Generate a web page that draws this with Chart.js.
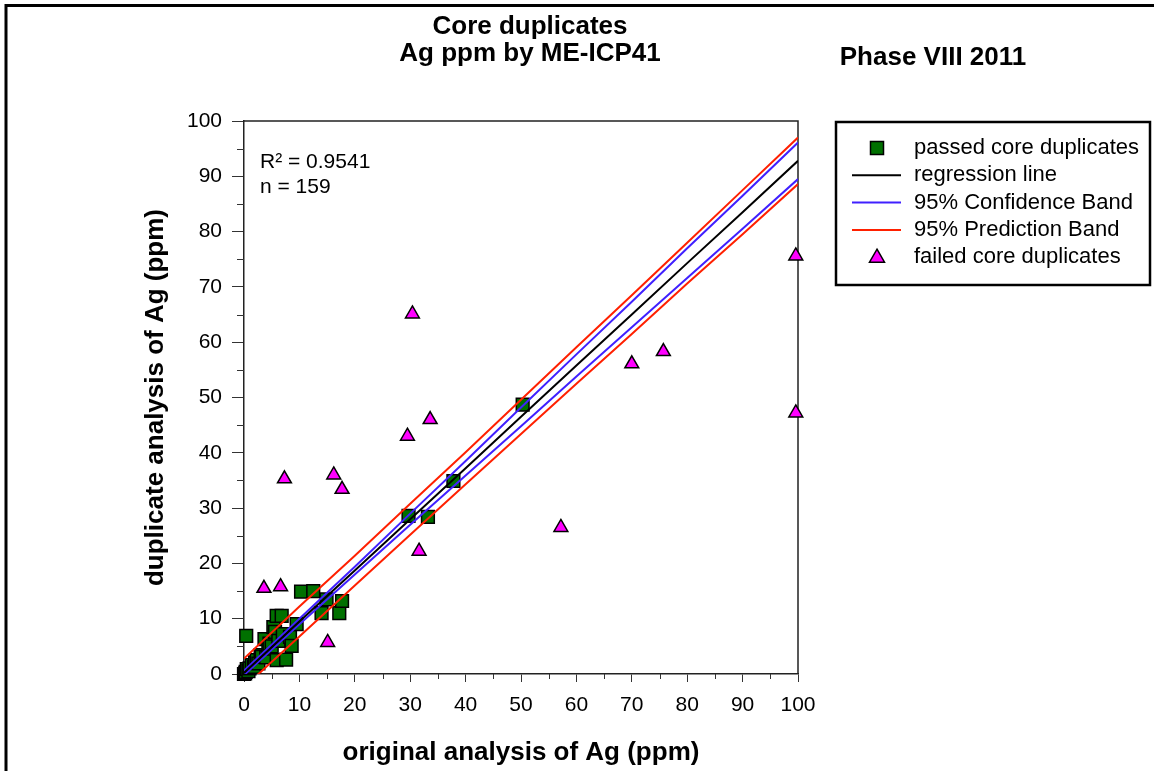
<!DOCTYPE html>
<html>
<head>
<meta charset="utf-8">
<title>Core duplicates - Ag ppm by ME-ICP41</title>
<script src="https://cdn.jsdelivr.net/npm/chart.js@4.4.0/dist/chart.umd.min.js"></script>
<style>
    html, body { margin: 0; padding: 0; background: #fff; }
    #wrap { position: relative; width: 1154px; height: 771px; }
</style>
</head>
<body>
<div id="wrap"><canvas id="agChart" width="1154" height="771"></canvas></div>
<script>
// passed core duplicates (original, duplicate) - many overlap near the origin
const passedX = [0.0, 0.2, 0.3, 0.5, 0.4, 0.8, 1.0, 1.4, 1.8, 2.0, 2.3, 2.6, 3.0, 3.2, 3.7, 4.0, 4.4, 4.6, 5.0, 5.3,
                 5.6, 5.9, 5.9, 6.2, 6.8, 7.0, 7.6, 8.3, 8.6, 9.5, 10.3, 12.5, 14.0, 14.9, 17.2, 17.7, 29.7, 33.2, 37.8, 50.3];
const passedY = [0.0, 0.1, 0.4, 0.9, 6.9, 0.5, 1.0, 1.6, 1.3, 2.1, 2.5, 1.9, 3.4, 3.1, 6.3, 3.0, 4.6, 5.5, 5.0, 8.5,
                 7.6, 2.5, 10.5, 6.0, 10.5, 7.2, 2.6, 6.7, 5.1, 9.0, 14.9, 15.0, 11.0, 13.5, 11.0, 13.2, 28.6, 28.4, 34.9, 48.7];

// failed core duplicates
const failedX = [3.6, 6.6, 7.3, 15.1, 16.2, 17.7, 29.5, 30.4, 31.6, 33.6, 57.2, 70.0, 75.7, 99.6, 99.6];
const failedY = [15.5, 15.8, 35.3, 5.7, 36.0, 33.4, 43.0, 65.1, 22.2, 46.0, 26.5, 56.1, 58.3, 75.6, 47.2];

// regression line and bands at every 10 ppm
const bandX     = [0, 10, 20, 30, 40, 50, 60, 70, 80, 90, 100];
const regY      = [0.2, 9.5, 18.7, 28.0, 37.2, 46.5, 55.8, 65.0, 74.3, 83.5, 92.8];
const confUpper = [0.6, 10.0, 19.4, 29.0, 38.5, 48.2, 57.8, 67.3, 77.0, 86.5, 96.1];
const confLower = [-0.2, 9.0, 18.0, 27.0, 35.9, 44.8, 53.8, 62.7, 71.6, 80.5, 89.5];
const predUpper = [2.8, 12.2, 21.4, 30.8, 40.1, 49.6, 59.1, 68.5, 78.0, 87.5, 97.0];
const predLower = [-2.4, 6.8, 16.0, 25.2, 34.3, 43.4, 52.5, 61.5, 70.6, 79.5, 88.6];

const axisTicks = [0, 10, 20, 30, 40, 50, 60, 70, 80, 90, 100];
const minorTickValues = [5, 15, 25, 35, 45, 55, 65, 75, 85, 95];

const titleLines = ['Core duplicates', 'Ag ppm by ME-ICP41'];
const phaseText = 'Phase VIII 2011';
const statLines = ['R\u00B2 = 0.9541', 'n = 159'];

const FONT = '"Liberation Sans", Arial, Helvetica, sans-serif';

function toPoints(xs, ys) {
    return xs.map((x, i) => ({ x: x, y: ys[i] }));
}

const decorPlugin = {
    id: 'decor',
    beforeDatasetsDraw(chart) {
        const { ctx, chartArea: a } = chart;
        const xs = chart.scales.x, ys = chart.scales.y;
        ctx.save();
        // top and right sides of the plot frame
        ctx.strokeStyle = '#222';
        ctx.lineWidth = 1.5;
        ctx.beginPath();
        ctx.moveTo(a.left, a.top);
        ctx.lineTo(a.right, a.top);
        ctx.lineTo(a.right, a.bottom);
        ctx.stroke();
        // minor ticks
        ctx.strokeStyle = '#333';
        ctx.lineWidth = 1;
        minorTickValues.forEach(v => {
            const px = Math.round(xs.getPixelForValue(v)) + 0.5;
            ctx.beginPath();
            ctx.moveTo(px, a.bottom);
            ctx.lineTo(px, a.bottom + 5);
            ctx.stroke();
            const py = Math.round(ys.getPixelForValue(v)) + 0.5;
            ctx.beginPath();
            ctx.moveTo(a.left, py);
            ctx.lineTo(a.left - 7, py);
            ctx.stroke();
        });
        ctx.restore();
    },
    afterDraw(chart) {
        const { ctx } = chart;
        const ds = chart.data.datasets;
        ctx.save();

        // page border
        ctx.strokeStyle = '#000';
        ctx.lineWidth = 3;
        ctx.beginPath();
        ctx.moveTo(6, 771);
        ctx.lineTo(6, 5.5);
        ctx.lineTo(1154, 5.5);
        ctx.stroke();

        // titles
        ctx.fillStyle = '#000';
        ctx.textBaseline = 'middle';
        ctx.textAlign = 'center';
        ctx.font = 'bold 26px ' + FONT;
        ctx.fillText(titleLines[0], 530, 27);
        ctx.fillText(titleLines[1], 530, 54);
        ctx.fillText(phaseText, 933, 58);

        // statistics
        ctx.textAlign = 'left';
        ctx.font = '21px ' + FONT;
        ctx.fillText(statLines[0], 260, 162);
        ctx.fillText(statLines[1], 260, 187);

        // legend
        const lx = 836, ly = 122, lw = 314, lh = 163;
        ctx.lineWidth = 2.5;
        ctx.strokeStyle = '#000';
        ctx.strokeRect(lx, ly, lw, lh);
        const entries = [0, 1, 2, 4, 6];
        ctx.font = '22px ' + FONT;
        entries.forEach((idx, i) => {
            const d = ds[idx];
            const y = 148 + i * 27.3;
            const cx = 877;
            if (d.pointStyle === 'rect') {
                ctx.fillStyle = d.backgroundColor;
                ctx.strokeStyle = d.borderColor;
                ctx.lineWidth = 1.5;
                ctx.fillRect(cx - 6.5, y - 6.5, 13, 13);
                ctx.strokeRect(cx - 6.5, y - 6.5, 13, 13);
            } else if (d.pointStyle === 'triangle') {
                ctx.fillStyle = d.backgroundColor;
                ctx.strokeStyle = d.borderColor;
                ctx.lineWidth = 1.5;
                ctx.beginPath();
                ctx.moveTo(cx, y - 8);
                ctx.lineTo(cx + 7.5, y + 5);
                ctx.lineTo(cx - 7.5, y + 5);
                ctx.closePath();
                ctx.fill();
                ctx.stroke();
            } else {
                ctx.strokeStyle = d.borderColor;
                ctx.lineWidth = 2;
                ctx.beginPath();
                ctx.moveTo(852, y);
                ctx.lineTo(901, y);
                ctx.stroke();
            }
            ctx.fillStyle = '#000';
            ctx.fillText(d.label, 914, y);
        });
        ctx.restore();
    }
};

function lineSet(label, ys, color, order) {
    return {
        label: label,
        data: toPoints(bandX, ys),
        showLine: true,
        borderColor: color,
        backgroundColor: color,
        borderWidth: 2,
        pointRadius: 0,
        fill: false,
        tension: 0,
        clip: 0,
        order: order
    };
}

const ctx = document.getElementById('agChart');

new Chart(ctx, {
    type: 'scatter',
    data: {
        datasets: [
            {
                label: 'passed core duplicates',
                data: toPoints(passedX, passedY),
                pointStyle: 'rect',
                pointRadius: 9,
                backgroundColor: '#007000',
                borderColor: '#000',
                borderWidth: 1.5,
                clip: false,
                order: 6
            },
            lineSet('regression line', regY, '#000000', 3),
            lineSet('95% Confidence Band', confUpper, '#4020ff', 4),
            lineSet('95% Confidence Band', confLower, '#4020ff', 4),
            lineSet('95% Prediction Band', predUpper, '#ff2000', 5),
            lineSet('95% Prediction Band', predLower, '#ff2000', 5),
            {
                label: 'failed core duplicates',
                data: toPoints(failedX, failedY),
                pointStyle: 'triangle',
                pointRadius: 8,
                backgroundColor: '#ff00ff',
                borderColor: '#000',
                borderWidth: 1.5,
                clip: false,
                order: 1
            }
        ]
    },
    options: {
        responsive: false,
        animation: false,
        layout: { padding: { left: 0, top: 121, right: 356, bottom: 0 } },
        scales: {
            x: {
                type: 'linear',
                position: 'bottom',
                min: 0,
                max: 100,
                afterFit: (scale) => { scale.height = 97; },
                afterBuildTicks: (scale) => { scale.ticks = axisTicks.map(v => ({ value: v })); },
                grid: { display: true, drawOnChartArea: false, drawTicks: true, tickLength: 8, tickColor: '#333' },
                border: { display: true, color: '#222', width: 1.5 },
                ticks: { color: '#000', padding: 11, maxRotation: 0, font: { family: FONT, size: 21 } },
                title: {
                    display: true,
                    text: 'original analysis of Ag (ppm)',
                    color: '#000',
                    font: { family: FONT, size: 26, weight: 'bold' },
                    padding: { top: 0, bottom: 3 }
                }
            },
            y: {
                type: 'linear',
                position: 'left',
                min: 0,
                max: 100,
                afterFit: (scale) => { scale.width = 244; },
                afterBuildTicks: (scale) => { scale.ticks = axisTicks.map(v => ({ value: v })); },
                grid: { display: true, drawOnChartArea: false, drawTicks: true, tickLength: 12, tickColor: '#333' },
                border: { display: true, color: '#222', width: 1.5 },
                ticks: { color: '#000', padding: 10, font: { family: FONT, size: 21 } },
                title: {
                    display: true,
                    text: 'duplicate analysis of Ag (ppm)',
                    color: '#000',
                    font: { family: FONT, size: 26, weight: 'bold' },
                    padding: { top: 140, bottom: 0 }
                }
            }
        },
        plugins: {
            legend: { display: false },
            title: { display: false },
            tooltip: { enabled: false }
        }
    },
    plugins: [decorPlugin]
});
</script>
</body>
</html>
